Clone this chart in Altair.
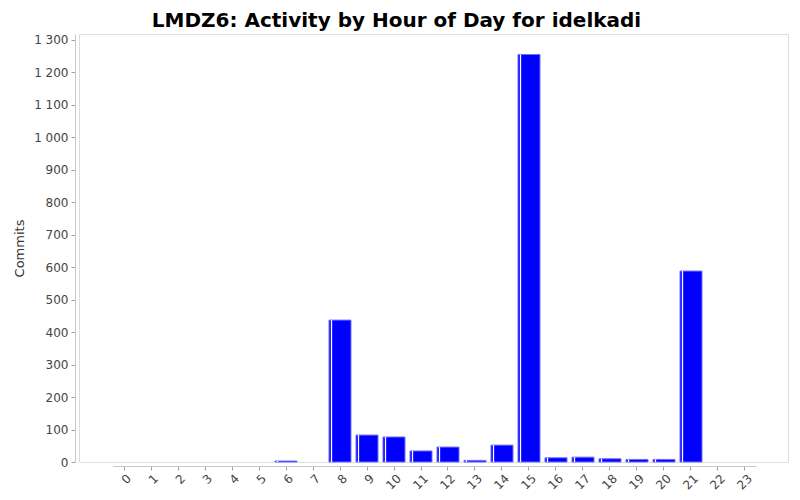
import altair as alt
import pandas as pd

hours = [str(h) for h in range(24)]
commits = [0, 0, 0, 0, 0, 0, 3, 0, 437, 83, 77, 34, 46, 5, 52, 1255, 13, 15, 10, 8, 8, 588, 0, 0]
y_ticks = list(range(0, 1400, 100))

df = pd.DataFrame({"hour": hours, "commits": commits})
df_nz = df[df["commits"] > 0]

FONT = "DejaVu Sans"

xscale = alt.Scale(domain=hours, paddingInner=0.185, paddingOuter=0, range=[34, 677])
yscale = alt.Scale(domain=[0, 1318], nice=False)

xaxis = alt.Axis(title=None, labelAngle=-45, labelAlign="right", labelBaseline="middle",
                 offset=4, domainColor="#c8c8c8", tickColor="#a0a0a0", tickSize=4,
                 labelColor="#444444", labelFont=FONT, labelFontSize=12, labelPadding=6,
                 labelOffset=5, labelOverlap=False, grid=False)
yaxis = alt.Axis(title="Commits", values=y_ticks,
                 labelExpr="replace(format(datum.value, ','), ',', ' ')",
                 offset=4, domainColor="#c8c8c8", tickColor="#a0a0a0", tickSize=4,
                 labelColor="#444444", labelFont=FONT, labelFontSize=12, labelPadding=3,
                 labelOverlap=False,
                 titleFont=FONT, titleFontSize=13, titleFontWeight="normal",
                 titleColor="#333333", titlePadding=7, grid=False)

xenc = alt.X("hour:N", scale=xscale, sort=hours, axis=xaxis)
yenc = alt.Y("commits:Q", scale=yscale, axis=yaxis)

bars = alt.Chart(df_nz).mark_bar(color="#0000ff", stroke="#7070ff", strokeWidth=1).encode(
    x=xenc, y=yenc)

shine = alt.Chart(df_nz).mark_rule(color="white", strokeWidth=1.3, xOffset=-8.5).encode(
    x=xenc, y=yenc, y2=alt.datum(0))

chart = alt.layer(bars, shine).properties(
    width=709, height=428,
    title=alt.TitleParams("LMDZ6: Activity by Hour of Day for idelkadi", font=FONT, fontSize=20,
                          fontWeight="bold", color="#000000", anchor="middle", dx=-37, offset=3),
    autosize=alt.AutoSizeParams(type="none"),
    padding={"left": 71, "top": 26, "right": 4, "bottom": 30},
).configure_view(stroke="#808080", strokeWidth=1).configure(background="white")

chart.save("out.html", embed_options={"renderer": "svg", "actions": False})
